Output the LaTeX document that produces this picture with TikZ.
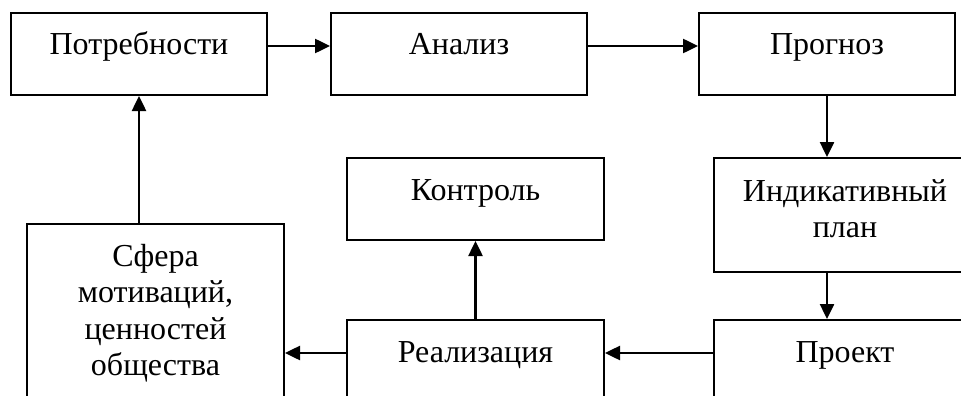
\documentclass[tikz,border=0pt]{standalone}
\usepackage{fontspec}
\setmainfont{Liberation Serif}
\usetikzlibrary{arrows.meta, positioning}

\begin{document}
\begin{tikzpicture}[
  node distance=60pt and 60pt,
  block/.style={rectangle, draw, line width=2pt, inner sep=0pt, text width=256pt, align=center,
    text height=42pt, text depth=40pt, font=\fontsize{32}{36.5}\selectfont},
  arrow/.style={line width=2.5pt, -{Triangle[length=15pt, width=14pt]}}
]
\clip (0,0) rectangle (961pt,-396pt);

% Top row
\node[block, anchor=north west] (potr) at (10pt,-12pt) {Потребности};
\node[block, right=62pt of potr] (analiz) {Анализ};
\node[block, right=110pt of analiz] (prognoz) {Прогноз};

% Right column
\node[block, text width=262pt, text height=43pt, text depth=71pt,
  below=61pt of prognoz.south west, anchor=north west, xshift=15pt] (indik) {Индикативный\\план};
\node[block, text width=262pt, text depth=60pt, below=46pt of indik] (proekt) {Проект};

% Bottom row
\node[block, text width=257pt, text depth=60pt, left=108pt of proekt] (realiz) {Реализация};
\node[block, text width=257pt, above=78pt of realiz] (kontrol) {Контроль};
\node[block, text width=257pt, text depth=150pt, below=127pt of potr.south west,
  anchor=north west, xshift=16pt] (sfera) {Сфера\\мотиваций,\\ценностей\\общества};

\coordinate (realizout) at ([yshift=9pt]realiz.base west);

% Connections
\draw[arrow] ([yshift=9pt]potr.base east) -- ([yshift=9pt]analiz.base west);
\draw[arrow] ([yshift=9pt]analiz.base east) -- ([yshift=9pt]prognoz.base west);
\draw[arrow] (prognoz) -- (prognoz |- indik.north);
\draw[arrow] (indik.south -| prognoz) -- (proekt.north -| prognoz);
\draw[arrow] ([yshift=9pt]proekt.base west) -- ([yshift=9pt]realiz.base east);
\draw[arrow] (realiz) -- (kontrol);
\draw[arrow] (realizout) -- (realizout -| sfera.east);
\draw[arrow] (sfera.north -| potr.south) -- (potr);

\end{tikzpicture}
\end{document}
